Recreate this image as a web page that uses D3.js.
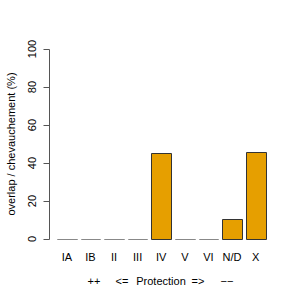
<!DOCTYPE html>
<html>
<head>
<meta charset="utf-8">
<script src="https://cdn.jsdelivr.net/npm/d3@7"></script>
<style>
  body { margin: 0; background: #fff; }
  text { font-family: "Liberation Sans", Arial, Helvetica, sans-serif; font-size: 11px; fill: #000; }
</style>
</head>
<body>
<script>
// data
var categories = ["IA", "IB", "II", "III", "IV", "V", "VI", "N/D", "X"];
var overlap = [0, 0, 0, 0, 45.2, 0, 0, 10.3, 45.6];
var yTicks = [0, 20, 40, 60, 80, 100];
var yLabel = "overlap / chevauchement (%)";
var xTitle = ["++", "<=", "Protection", "=>", "\u2212\u2212"];
var xTitlePos = [94, 122, 161, 198, 227];

var width = 300, height = 300;

var svg = d3.select("body").append("svg")
  .attr("width", width)
  .attr("height", height);

var x = d3.scaleBand()
  .domain(categories)
  .range([57, 265.5])
  .paddingInner(0.2 / 1.2)
  .paddingOuter(0);

var y = d3.scaleLinear()
  .domain([0, 100])
  .range([239, 49]);

// y axis (R style: line spans ticks, labels parallel to axis)
var axisX = 49.5;
svg.append("line")
  .attr("x1", axisX).attr("x2", axisX)
  .attr("y1", y(0) + 0.5).attr("y2", y(100) + 0.5)
  .attr("stroke", "#555");
svg.selectAll("line.tick")
  .data(yTicks)
  .enter()
  .append("line")
  .attr("class", "tick")
  .attr("x1", axisX - 6).attr("x2", axisX)
  .attr("y1", function(d){ return Math.round(y(d)) + 0.5; })
  .attr("y2", function(d){ return Math.round(y(d)) + 0.5; })
  .attr("stroke", "#555");
svg.selectAll("text.ytick")
  .data(yTicks)
  .enter()
  .append("text")
  .attr("class", "ytick")
  .attr("text-anchor", "middle")
  .attr("transform", function(d){ return "translate(35.5," + y(d) + ") rotate(-90)"; })
  .text(function(d){ return d; });

svg.append("text")
  .attr("text-anchor", "middle")
  .attr("transform", "translate(14.5," + ((y(0) + y(100)) / 2) + ") rotate(-90)")
  .text(yLabel);

// bars, drawn as paths so zero bars still show as a line
svg.selectAll("path.bar")
  .data(overlap)
  .enter()
  .append("path")
  .attr("class", "bar")
  .attr("d", function(d, i){
    var x0 = Math.round(x(categories[i])) + 0.5;
    var x1 = Math.round(x(categories[i]) + x.bandwidth()) + 0.5;
    var y0 = Math.round(y(0)) + 0.5;
    var y1 = Math.round(y(d)) + 0.5;
    return "M" + x0 + "," + y0 + "V" + y1 + "H" + x1 + "V" + y0 + "Z";
  })
  .attr("fill", "#E69F00")
  .attr("stroke", function(d){ return d > 0 ? "#333" : "#888"; })
  .attr("stroke-width", 1);

// category labels
svg.selectAll("text.xlab")
  .data(categories)
  .enter()
  .append("text")
  .attr("class", "xlab")
  .attr("text-anchor", "middle")
  .attr("x", function(d){ return x(d) + x.bandwidth() / 2; })
  .attr("y", 261)
  .text(function(d){ return d; });

// x title, pieces spaced out as in the original
svg.selectAll("text.xtitle")
  .data(xTitle)
  .enter()
  .append("text")
  .attr("class", "xtitle")
  .attr("text-anchor", "middle")
  .attr("x", function(d, i){ return xTitlePos[i]; })
  .attr("y", 285)
  .text(function(d){ return d; });
</script>
</body>
</html>
